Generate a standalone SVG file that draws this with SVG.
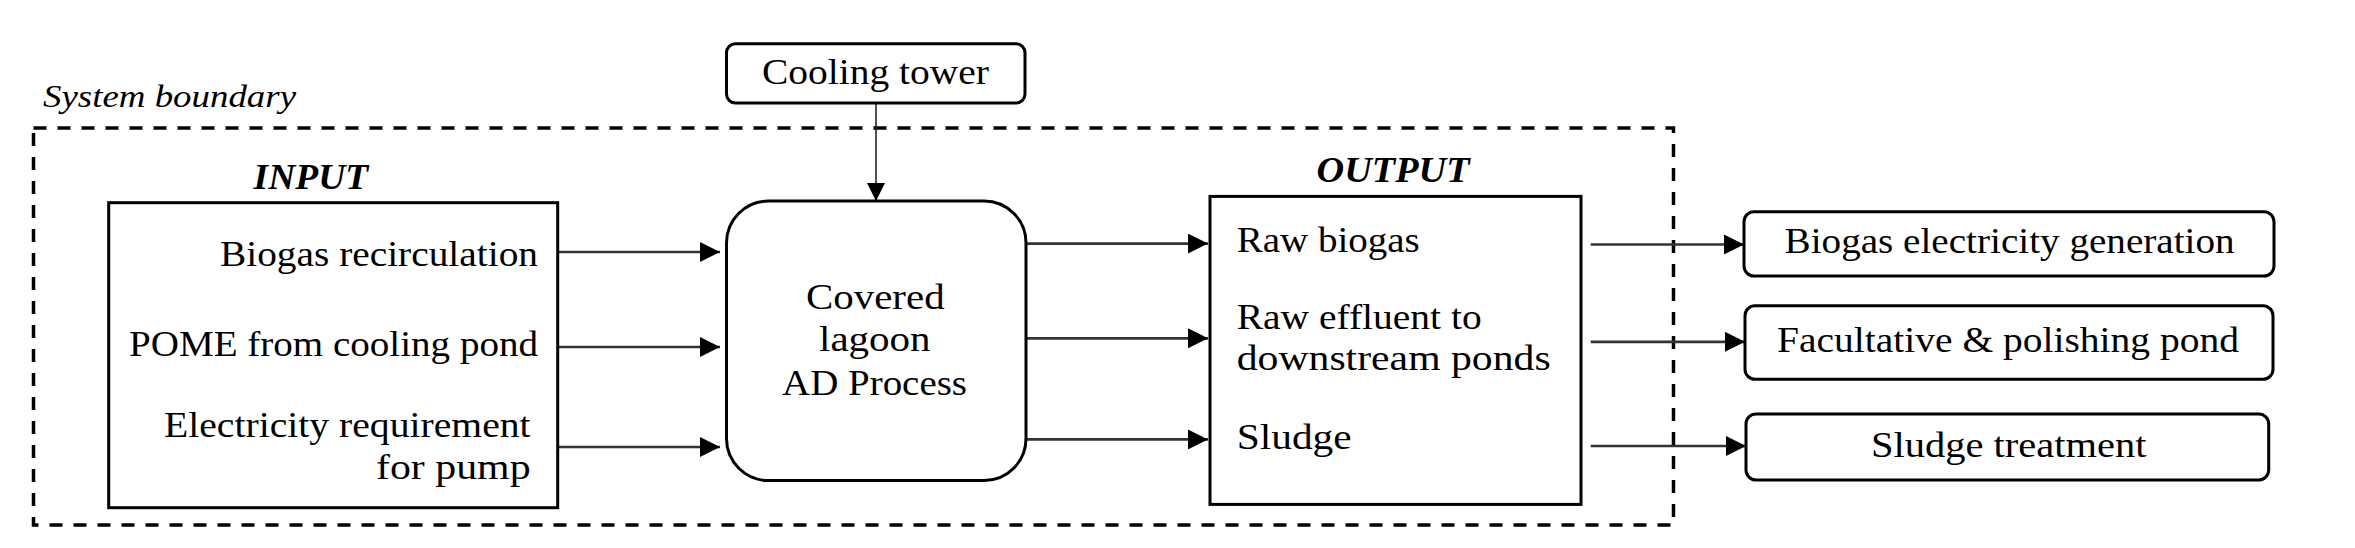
<svg xmlns="http://www.w3.org/2000/svg" width="2355" height="548" viewBox="0 0 2355 548">
<style>
text{font-family:"Liberation Serif","Times New Roman",serif;font-size:35px;fill:#000}
.lbl{font-style:italic;font-weight:bold;font-size:36px}
.sb{font-style:italic;font-size:32px}
.box{fill:#fff;stroke:#000;stroke-width:3}
.boundary{fill:none;stroke:#000;stroke-width:3.5;stroke-dasharray:13 11}
.conn{stroke:#333;stroke-width:2.7;fill:none}
.thin{stroke:#222;stroke-width:1.6;fill:none}
</style>
<defs>
<marker id="arr" viewBox="0 0 20 20" refX="20" refY="10" markerWidth="20" markerHeight="20" markerUnits="userSpaceOnUse" orient="auto">
<path d="M0,0 L20,10 L0,20 z" fill="#000"/>
</marker>
<marker id="arrs" viewBox="0 0 18 18" refX="18" refY="9" markerWidth="18" markerHeight="18" markerUnits="userSpaceOnUse" orient="auto">
<path d="M0,0 L18,9 L0,18 z" fill="#000"/>
</marker>
</defs>
<g id="boundary">
<rect class="boundary" x="33.5" y="128" width="1640" height="397"/>
<text class="sb" x="43" y="107" textLength="253" lengthAdjust="spacingAndGlyphs">System boundary</text>
</g>
<g id="connectors">
<line class="thin" x1="876" y1="103" x2="876" y2="201" marker-end="url(#arrs)"/>
<line class="conn" x1="559" y1="252" x2="720" y2="252" marker-end="url(#arr)"/>
<line class="conn" x1="559" y1="347" x2="720" y2="347" marker-end="url(#arr)"/>
<line class="conn" x1="559" y1="447" x2="720" y2="447" marker-end="url(#arr)"/>
<line class="conn" x1="1027" y1="243.6" x2="1208" y2="243.6" marker-end="url(#arr)"/>
<line class="conn" x1="1027" y1="338.3" x2="1208" y2="338.3" marker-end="url(#arr)"/>
<line class="conn" x1="1027" y1="439.4" x2="1208" y2="439.4" marker-end="url(#arr)"/>
<line class="conn" x1="1590.7" y1="244.5" x2="1744" y2="244.5" marker-end="url(#arr)"/>
<line class="conn" x1="1590.7" y1="341.8" x2="1745" y2="341.8" marker-end="url(#arr)"/>
<line class="conn" x1="1590.7" y1="446" x2="1746" y2="446" marker-end="url(#arr)"/>
</g>
<g id="cooling-tower">
<rect class="box" x="726.5" y="43.7" width="298.5" height="59.3" rx="9"/>
<text x="762" y="84" textLength="227" lengthAdjust="spacingAndGlyphs">Cooling tower</text>
</g>
<g id="input">
<text class="lbl" x="253.6" y="189" textLength="114.5" lengthAdjust="spacingAndGlyphs">INPUT</text>
<rect class="box" x="108.7" y="202.7" width="449" height="305"/>
<text x="220" y="265.6" textLength="318" lengthAdjust="spacingAndGlyphs">Biogas recirculation</text>
<text x="129" y="355.8" textLength="409" lengthAdjust="spacingAndGlyphs">POME from cooling pond</text>
<text x="164" y="437" textLength="366.6" lengthAdjust="spacingAndGlyphs">Electricity requirement</text>
<text x="376" y="478.8" textLength="154.6" lengthAdjust="spacingAndGlyphs">for pump</text>
</g>
<g id="ad-process">
<rect class="box" x="726.5" y="201" width="299.5" height="279.6" rx="42"/>
<text x="806" y="309" textLength="138.6" lengthAdjust="spacingAndGlyphs">Covered</text>
<text x="819" y="351" textLength="111.6" lengthAdjust="spacingAndGlyphs">lagoon</text>
<text x="782" y="395" textLength="185" lengthAdjust="spacingAndGlyphs">AD Process</text>
</g>
<g id="output">
<text class="lbl" x="1316.5" y="181.8" textLength="153" lengthAdjust="spacingAndGlyphs">OUTPUT</text>
<rect class="box" x="1210" y="196.4" width="371" height="308"/>
<text x="1236.7" y="251.7" textLength="183" lengthAdjust="spacingAndGlyphs">Raw biogas</text>
<text x="1236.7" y="328.6" textLength="245" lengthAdjust="spacingAndGlyphs">Raw effluent to</text>
<text x="1236.7" y="369.8" textLength="314" lengthAdjust="spacingAndGlyphs">downstream ponds</text>
<text x="1236.7" y="449" textLength="115" lengthAdjust="spacingAndGlyphs">Sludge</text>
</g>
<g id="biogas-electricity">
<rect class="box" x="1744" y="211.7" width="530" height="64.3" rx="10"/>
<text x="1784.6" y="253" textLength="450" lengthAdjust="spacingAndGlyphs">Biogas electricity generation</text>
</g>
<g id="facultative-pond">
<rect class="box" x="1745" y="305.7" width="528" height="73.6" rx="10"/>
<text x="1777" y="351.7" textLength="462" lengthAdjust="spacingAndGlyphs">Facultative &amp; polishing pond</text>
</g>
<g id="sludge-treatment">
<rect class="box" x="1746" y="414" width="522.7" height="66" rx="10"/>
<text x="1871" y="456.7" textLength="275.5" lengthAdjust="spacingAndGlyphs">Sludge treatment</text>
</g>
</svg>
